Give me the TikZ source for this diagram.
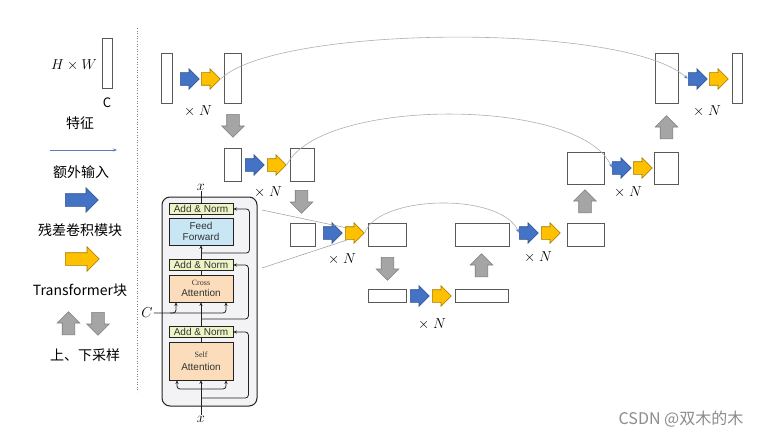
\documentclass[tikz,border=0pt]{standalone}
\usepackage{fontspec}
\setmainfont{Liberation Sans}
\newfontfamily\cjk{Noto Sans CJK SC}
\newfontfamily\tms{Liberation Serif}
\usetikzlibrary{shapes.arrows,arrows.meta,calc}
\definecolor{blueA}{HTML}{4472C4}
\definecolor{blueB}{HTML}{2F528F}
\definecolor{yelA}{HTML}{FFC000}
\definecolor{yelB}{HTML}{A07A00}
\definecolor{grayA}{HTML}{A5A5A5}
\definecolor{grayB}{HTML}{7F7F7F}
\definecolor{featB}{HTML}{595959}
\definecolor{anF}{HTML}{EEF4C6}
\definecolor{ffF}{HTML}{C8E6F4}
\definecolor{atF}{HTML}{FBDDBB}
\definecolor{blkF}{HTML}{F3F3F6}
\definecolor{skipC}{HTML}{A9B0B8}
\definecolor{skipT}{HTML}{4F7FC8}
\definecolor{inkC}{HTML}{222222}
\tikzset{
  feat/.style={draw=featB, line width=0.9pt, fill=white, inner sep=0pt},
  barrow/.style={single arrow, draw=blueB, fill=blueA, line width=0.6pt, inner xsep=0pt, inner ysep=6pt,
     minimum height=19pt, minimum width=20pt, single arrow head extend=4pt, anchor=tail},
  yarrow/.style={barrow, draw=yelB, fill=yelA},
  garrow/.style={single arrow, draw=grayB, fill=grayA, line width=0.6pt, inner sep=6pt,
     minimum height=23pt, minimum width=22pt, single arrow head extend=5pt, anchor=tail},
  xn/.style={font=\fontsize{14}{14}\selectfont, inner sep=0pt},
  cjkl/.style={font=\cjk\fontsize{14}{14}\selectfont, inner sep=0pt},
  skipline/.style={draw=skipC, line width=0.6pt, -{Stealth[length=4pt,width=3pt,color=skipT]}, shorten >=0.5pt},
  thinline/.style={draw=gray!80, line width=0.5pt},
  an/.style={draw=inkC, line width=0.8pt, fill=anF, minimum width=64pt, minimum height=11pt,
     inner sep=0pt, font=\fontsize{10}{10}\selectfont, text=black!80},
  ffbox/.style={draw=inkC, line width=0.8pt, fill=ffF, minimum width=64pt, minimum height=27pt,
     inner sep=0pt, align=center, font=\fontsize{10}{11.5}\selectfont, text=black!80},
  attbox/.style={ffbox, fill=atF},
  flow/.style={draw=inkC, line width=0.8pt, -{Stealth[length=3.5pt,width=3.2pt]}},
  plain/.style={draw=inkC, line width=0.8pt},
}
\begin{document}
\begin{tikzpicture}[x=1pt,y=-1pt]
\fill[white] (0,0) rectangle (766,436);
\useasboundingbox (0,0) rectangle (766,436);

% ---------- legend ----------
\node[feat, minimum width=10pt, minimum height=50pt] (lrect) at (107,63) {};
\node[font=\fontsize{14}{14}\selectfont, inner sep=0pt] (lhw) at (74,65) {$H\times W$};
\node[font=\cjk\fontsize{13}{13}\selectfont, inner sep=0pt] (lc) at (107,103) {C};
\node[cjkl] (l1) at (80,123) {特征};
\coordinate (la0) at (50,150);
\coordinate (la1) at (117,150);
\draw[draw=skipT!80!gray, line width=0.6pt, -{Stealth[length=4pt,width=3pt]}] (la0) -- (la1);
\node[cjkl] (l2) at (81,172) {额外输入};
\node[barrow, minimum height=33pt, minimum width=24pt, single arrow head extend=6pt] (lb) at (65,200) {};
\node[cjkl] (l3) at (80,230) {残差卷积模块};
\node[yarrow, minimum height=34pt, minimum width=24pt, single arrow head extend=6pt] (ly) at (65,259) {};
\node[cjkl] (l4) at (80,290) {Transformer块};
\node[garrow, shape border rotate=90] (lu) at (68.5,335) {};
\node[garrow, shape border rotate=270] (ld) at (98,312) {};
\node[cjkl] (l5) at (85,355) {上、下采样};
\draw[dotted, draw=gray, line width=0.6pt] (137,28) -- (137,392);

% ---------- feature maps ----------
\node[feat, minimum width=11pt, minimum height=50pt] (A) at (166.5,78) {};
\node[feat, minimum width=17pt, minimum height=50pt] (B) at (232.5,78) {};
\node[feat, minimum width=17pt, minimum height=33pt] (C) at (232.5,164.5) {};
\node[feat, minimum width=24pt, minimum height=33pt] (D) at (302,164.5) {};
\node[feat, minimum width=25pt, minimum height=23pt] (E) at (302.5,234.5) {};
\node[feat, minimum width=38pt, minimum height=23pt] (F) at (387,234.5) {};
\node[feat, minimum width=38pt, minimum height=13pt] (G) at (387,295.5) {};
\node[feat, minimum width=53pt, minimum height=13pt] (H) at (481.5,295.5) {};
\node[feat, minimum width=54pt, minimum height=23pt] (I) at (482,234.5) {};
\node[feat, minimum width=37pt, minimum height=23pt] (J) at (585.5,234.5) {};
\node[feat, minimum width=37pt, minimum height=32pt] (K) at (585.5,168) {};
\node[feat, minimum width=24pt, minimum height=32pt] (L) at (666,168) {};
\node[feat, minimum width=23pt, minimum height=50pt] (M) at (666.5,78) {};
\node[feat, minimum width=10pt, minimum height=50pt] (N) at (737,78) {};

% ---------- block arrows ----------
\node[barrow] (b1) at (180,79) {};   \node[yarrow] (y1) at (201,79) {};
\node[barrow] (b2) at (245,165) {};  \node[yarrow] (y2) at (267,165) {};
\node[barrow] (b3) at (323,233) {};  \node[yarrow] (y3) at (345,233) {};
\node[barrow] (b4) at (410,296) {};  \node[yarrow] (y4) at (432,296) {};
\node[barrow] (b5) at (519,233) {};  \node[yarrow] (y5) at (541,233) {};
\node[barrow] (b6) at (612,168) {};  \node[yarrow] (y6) at (633,168) {};
\node[barrow] (b7) at (688,79) {};   \node[yarrow] (y7) at (709,79) {};

\node[xn] (n1) at (198,111) {$\times\;N$};
\node[xn] (n2) at (268,192) {$\times\;N$};
\node[xn] (n3) at (342,259) {$\times\;N$};
\node[xn] (n4) at (432,324) {$\times\;N$};
\node[xn] (n5) at (538,257) {$\times\;N$};
\node[xn] (n6) at (628,192) {$\times\;N$};
\node[xn] (n7) at (707,111) {$\times\;N$};

% ---------- up / down sampling ----------
\node[garrow, shape border rotate=270] (d1) at (233,114) {};
\node[garrow, shape border rotate=270] (d2) at (301.5,190) {};
\node[garrow, shape border rotate=270] (d3) at (387.5,257) {};
\node[garrow, shape border rotate=90] (u1) at (481.5,277) {};
\node[garrow, shape border rotate=90] (u2) at (585,213) {};
\node[garrow, shape border rotate=90] (u3) at (666.5,139) {};

% ---------- skip connections ----------
\draw[skipline] (y1.tip) .. controls (275,25) and (625,22) .. (b7.tail);
\draw[skipline] (y2.tip) .. controls (320,97) and (580,97) .. (b6.tail);
\draw[skipline] (y3.tip) .. controls (378,195) and (500,192) .. (b5.tail);

% ---------- transformer block ----------
\node[draw=inkC, line width=1pt, fill=blkF, rounded corners=8pt, minimum width=95pt,
      minimum height=209pt, inner sep=0pt] (blk) at (209.5,301.5) {};
\coordinate (z1) at (262,210);
\coordinate (z2) at (262,268);
\draw[thinline] (z1) -- ($(y3.tail)+(2,-5)$);
\draw[thinline] (z2) -- ($(y3.tail)+(2,7)$);

\node[an] (an1) at (201,209) {Add \& Norm};
\node[ffbox] (ff) at (201,231.5) {Feed\\Forward};
\node[an] (an2) at (201,265) {Add \& Norm};
\node[attbox] (ca) at (201,288.5) {{\tms\fontsize{8}{9}\selectfont Cross}\\Attention};
\node[an] (an3) at (201,332) {Add \& Norm};
\node[attbox, minimum height=38pt] (sa) at (201,361) {{\tms\fontsize{8}{9}\selectfont Self}\\[2pt]Attention};

\node[font=\fontsize{14}{14}\selectfont, inner sep=1pt] (xt) at (201,187) {$x$};
\node[font=\fontsize{14}{14}\selectfont, inner sep=1pt] (xb) at (201,419) {$x$};
\node[font=\fontsize{14}{14}\selectfont, inner sep=1pt] (cl) at (147,313) {$C$};

\draw[flow] (xb.north) -- (sa.south);
\draw[flow, rounded corners=3pt] (201,389) -| ($(sa.south)+(-24,0)$);
\draw[flow, rounded corners=3pt] (201,389) -| ($(sa.south)+(25,0)$);
\draw[flow, rounded corners=3pt] (201,398) -| ($(an3.east)+(15,0)$) -- (an3.east);
\draw[plain] (sa.north) -- (an3.south);
\draw[flow] (an3.north) -- (ca.south);
\draw[flow, rounded corners=3pt] (201,319) -| ($(an2.east)+(15,0)$) -- (an2.east);
\draw[flow, rounded corners=3pt] (cl.east) -| ($(ca.south)+(25,0)$);
\draw[flow, rounded corners=3pt] (170,313) -| ($(ca.south)+(-25,0)$);
\draw[plain] (ca.north) -- (an2.south);
\draw[flow] (an2.north) -- (ff.south);
\draw[flow, rounded corners=3pt] (201,253) -| ($(an1.east)+(16,0)$) -- (an1.east);
\draw[plain] (ff.north) -- (an1.south);
\draw[plain] (an1.north) -- (xt.south);

% ---------- watermark ----------
\node[font=\cjk\fontsize{16}{16}\selectfont, text=black!45, inner sep=0pt] (wm) at (681,419) {CSDN @双木的木};
\end{tikzpicture}
\end{document}
